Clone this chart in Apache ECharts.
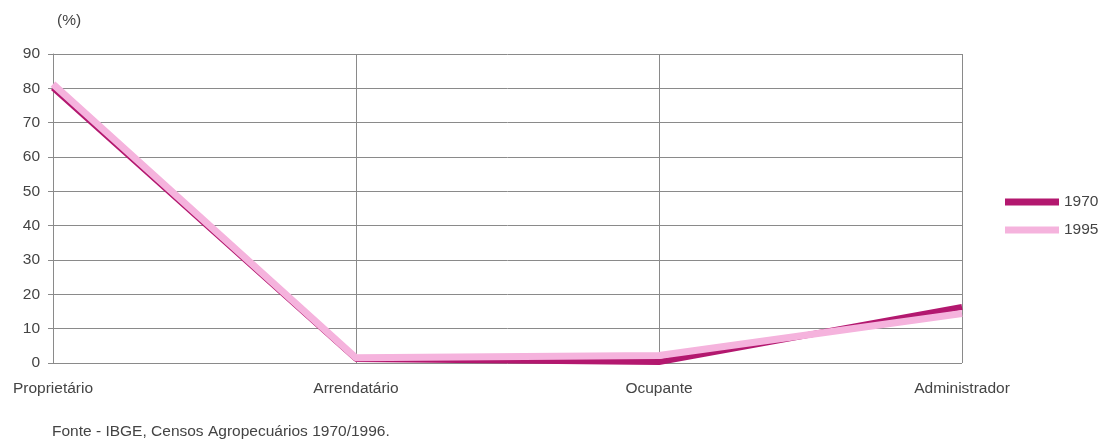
<!DOCTYPE html>
<html><head><meta charset="utf-8">
<script src="https://cdn.jsdelivr.net/npm/echarts@6/dist/echarts.min.js"></script>
<style>html,body{margin:0;padding:0;background:#fff}#c{width:1100px;height:446px}</style>
</head><body><div id="c"></div>
<script>
const categories = ['Proprietário', 'Arrendatário', 'Ocupante', 'Administrador'];
const s1970 = [80.2, 1.2, 0.3, 16.3];
const s1995 = [81.2, 1.5, 2.2, 14.4];
const yTicks = [0, 10, 20, 30, 40, 50, 60, 70, 80, 90];
const seriesNames = ['1970', '1995'];
const colors = ['#B3186F', '#F5B3DD'];
const font = 'Liberation Sans, Arial, sans-serif';
const fs = 15.5;
const txt = '#444';

const chart = echarts.init(document.getElementById('c'), null, {renderer: 'canvas'});
chart.setOption({
  animation: false,
  backgroundColor: '#fff',
  title: [
    {text: '(%)', left: 52, top: 8, textStyle: {fontFamily: font, fontSize: fs, fontWeight: 'normal', color: txt}},
    {text: 'Fonte - IBGE, Censos Agropecuários 1970/1996.', left: 47, top: 419, textStyle: {fontFamily: font, fontSize: fs, fontWeight: 'normal', color: txt}}
  ],
  legend: {
    orient: 'vertical', left: 1000, top: 189, itemGap: 12,
    itemWidth: 54, itemHeight: 7, icon: 'rect',
    data: seriesNames,
    textStyle: {fontFamily: font, fontSize: fs, color: txt, padding: [10, 0, 0, 0]}
  },
  grid: {left: 53, right: 138, top: 54, bottom: 83, containLabel: false},
  xAxis: {
    type: 'category', data: categories, boundaryGap: false,
    axisLine: {show: false},
    axisTick: {show: false},
    axisLabel: {fontFamily: font, fontSize: fs, color: txt, margin: 18},
    splitLine: {show: true, lineStyle: {color: '#8a8a8a', width: 1}}
  },
  yAxis: {
    type: 'value', min: 0, max: 90, interval: 10,
    axisLine: {show: true, lineStyle: {color: '#8a8a8a', width: 1}},
    axisTick: {show: true, length: 5, lineStyle: {color: '#8a8a8a'}},
    axisLabel: {fontFamily: font, fontSize: fs, color: txt, margin: 13,
      formatter: v => yTicks.includes(v) ? String(v) : ''},
    splitLine: {show: true, lineStyle: {color: '#8a8a8a', width: 1}}
  },
  series: [
    {name: seriesNames[0], type: 'line', data: s1970, symbol: 'none',
     lineStyle: {color: colors[0], width: 6}, itemStyle: {color: colors[0]}},
    {name: seriesNames[1], type: 'line', data: s1995, symbol: 'none',
     lineStyle: {color: colors[1], width: 7}, itemStyle: {color: colors[1]}}
  ]
});
</script></body></html>
